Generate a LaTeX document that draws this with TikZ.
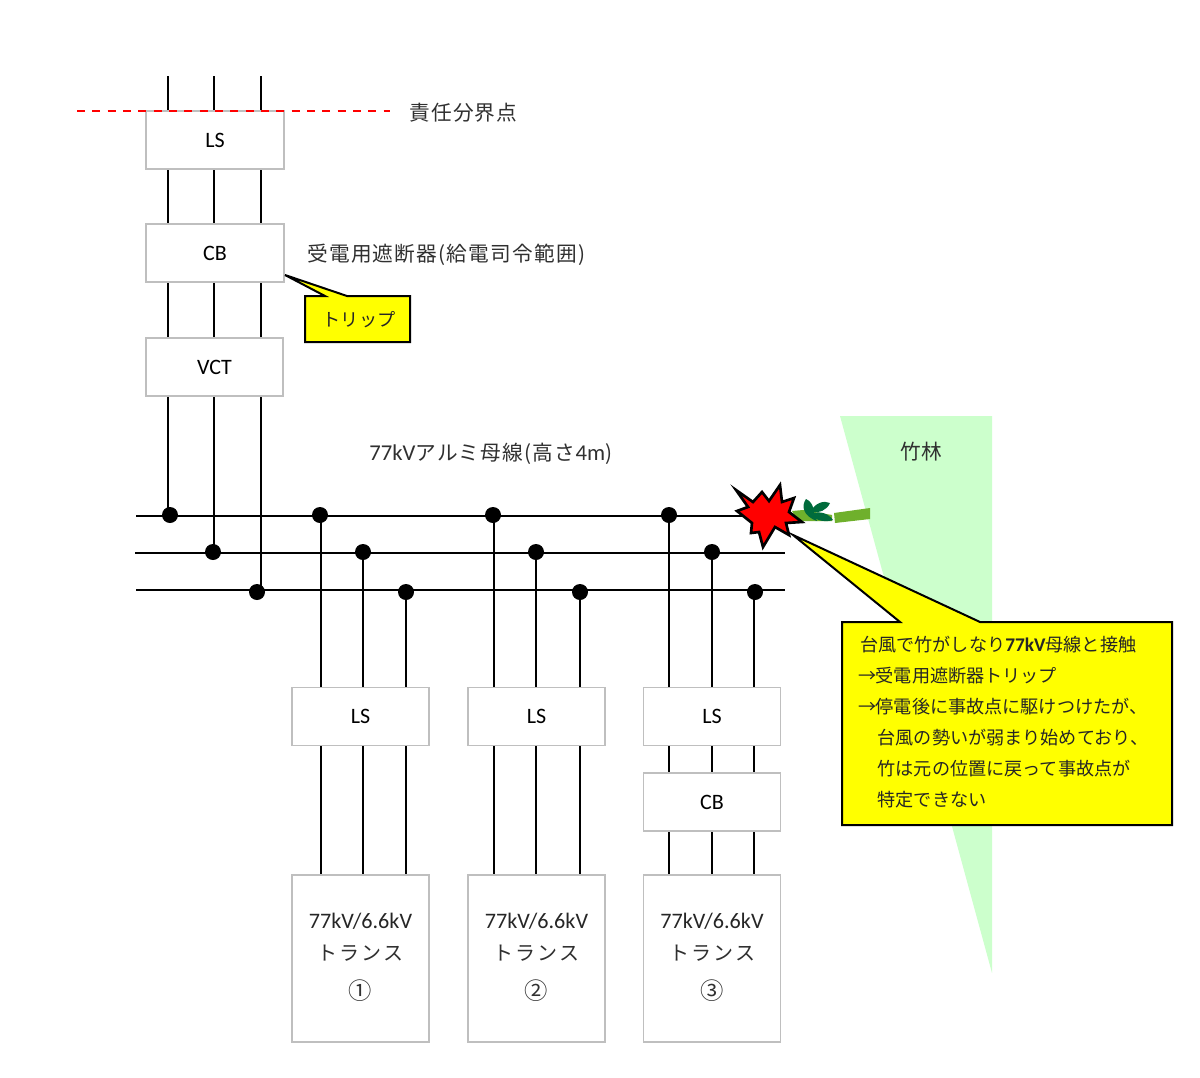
\documentclass[tikz,border=0pt]{standalone}
\usepackage{fontspec}
\setmainfont{Noto Sans CJK JP}
\newfontfamily\lat{Carlito}
\newfontfamily\cjkw[LetterSpace=6]{Noto Sans CJK JP}
\definecolor{boxgray}{HTML}{BFBFBF}
\definecolor{txt}{HTML}{303030}
\definecolor{bamboo}{HTML}{6FB02C}
\definecolor{leafc}{HTML}{006B3C}
\definecolor{grove}{HTML}{CCFFCC}
\definecolor{yel}{HTML}{FFFF00}
\tikzset{
  eqbox/.style={draw=boxgray,line width=1.2pt,fill=white,inner sep=0pt,text=black,align=center,font=\fontsize{16.5}{16.5}\selectfont\lat},
  wire/.style={black,line width=1.4pt},
  busdot/.style={circle,fill=black,inner sep=0pt,minimum size=12pt},
  callout/.style={draw=black,line width=1.5pt,fill=yel,line join=miter},
  lbl/.style={text=txt,inner sep=0pt,font=\fontsize{15.5}{15.5}\selectfont\cjkw},
  ylbl/.style={text=black!85,inner sep=0pt,font=\fontsize{13.6}{23.25}\selectfont,align=left},
  trtext/.style={inner sep=0pt,text=txt}
}
\newcommand{\K}[1]{{\lat #1}}
\begin{document}
\begin{tikzpicture}[x=0.75pt,y=-0.75pt]
\useasboundingbox (0,0) rectangle (1200,1078);
\fill[white] (0,0) rectangle (1200,1078);
% bamboo grove
\fill[grove] (840,416) -- (992,416) -- (992,973) -- cycle;
\node[text=txt,inner sep=0pt,font=\fontsize{15.5}{15.5}\selectfont] (grove) at (921,452) {竹林};
% coordinates of wire ends
\foreach \n/\x/\y in {a/168/76,b/214/76,c/261/76}{\coordinate (top\n) at (\x,\y);}
\foreach \n/\x/\y in {p/136/516,q/135/553,r/136/590}{\coordinate (bl\n) at (\x,\y);}
\coordinate (brp) at (745,516);
\coordinate (brq) at (785,553);
\coordinate (brr) at (785,590);
% junction dots
\foreach \n/\x/\y in {a/170/515,b/213/552,c/257/592,
 d/320/515,e/363/552,f/406/592,
 g/493/515,h/536/552,i/580/592,
 j/669/515,k/712/552,l/755/592}{\node[busdot] (dot\n) at (\x,\y) {};}
% buses
\draw[wire] (blp) -- (brp);
\draw[wire] (blq) -- (brq);
\draw[wire] (blr) -- (brr);
% incoming
\draw[wire] (topa) -- (topa |- dota);
\draw[wire] (topb) -- (topb |- dotb);
\draw[wire] (topc) -- (topc |- blr);
% feeders
\foreach \n/\x/\d in {1/321/d,2/363/e,3/406/f,4/494/g,5/536/h,6/580/i,7/669/j,8/712/k,9/754/l}{
  \coordinate (fe\n) at (\x,875);
  \draw[wire] (fe\n) -- (fe\n |- dot\d);
}
% equipment
\node[eqbox,minimum width=103.5pt,minimum height=43.5pt] (ls0) at (215,140) {LS};
\node[eqbox,minimum width=103.5pt,minimum height=43.5pt] (cb0) at (215,253) {CB};
\node[eqbox,minimum width=102.75pt,minimum height=43.5pt] (vct) at (214.5,367) {VCT};
\node[eqbox,minimum width=102.75pt,minimum height=43.5pt] (ls1) at (360.5,716.5) {LS};
\node[eqbox,minimum width=102.75pt,minimum height=43.5pt] (ls2) at (536.5,716.5) {LS};
\node[eqbox,minimum width=102.75pt,minimum height=43.5pt] (ls3) at (712,716.5) {LS};
\node[eqbox,minimum width=102.75pt,minimum height=43.5pt] (cb3) at (712,802) {CB};
\foreach \n/\x/\t in {1/360.5/①,2/536.5/②,3/712/③}{
  \node[eqbox,minimum width=102.75pt,minimum height=125.25pt] (tr\n) at (\x,958.5) {};
  \node[trtext,font=\fontsize{16.6}{16.6}\selectfont\lat,text=black!85] (trv\n) at (\x,921) {77kV/6.6kV};
  \node[trtext,font=\fontsize{15}{15}\selectfont] (trn\n) at (\x,953) {ト\hspace{1.5pt}ラ\hspace{1.5pt}ン\hspace{1.5pt}ス};
  \node[trtext,font=\fontsize{17.5}{17.5}\selectfont] (trc\n) at (\x,991) {\t};
}
% boundary
\coordinate (bda) at (77,111);
\coordinate (bdb) at (390,111);
\draw[red,line width=1.2pt,dash pattern=on 6pt off 5.5pt] (bda) -- (bdb);
\node[lbl,anchor=west] (bdl) at (409,113) {責任分界点};
\node[lbl,anchor=west] (rcv) at (307,255) {受電用遮断器(給電司令範囲)};
\node[lbl,anchor=west] (busl) at (369,454) {{\lat\fontsize{17}{17}\selectfont 77kV}アルミ母線(高さ{\lat\fontsize{17}{17}\selectfont 4m})};
% trip callout
\draw[callout] (305,296) -- (325,296) -- (285,275) -- (347,296) -- (410,296) -- (410,342) -- (305,342) -- cycle;
\node[text=black!85,inner sep=0pt,font=\fontsize{13.6}{13.6}\selectfont] (trip) at (359,320) {トリップ};
% bamboo
\fill[bamboo] (792,511) -- (803,510) -- (832,515) -- (832,521) -- (803,521) -- (797,521) -- cycle;
\fill[bamboo] (834,513) -- (870,508) -- (870,519) -- (835,523) -- cycle;
\fill[leafc] (806,499) .. controls (801,506) and (803,516) .. (817,521) .. controls (813,513) and (815,503) .. (806,499) -- cycle;
\fill[leafc] (811,511) .. controls (815,503) and (824,500) .. (830,503) .. controls (827,510) and (819,514) .. (811,511) -- cycle;
\fill[leafc] (811,514) .. controls (820,510) and (829,514) .. (833,520) .. controls (827,522) and (816,522) .. (811,514) -- cycle;
% flash
\draw[fill=red,draw=black,line width=2pt,line join=miter,miter limit=20] (736,490) -- (753,502) -- (762,492) -- (769,501) -- (780,485) -- (782,502) -- (794,498) -- (789,512) -- (802,522) -- (786,523) -- (789,535) -- (775,527) -- (763,547) -- (759,532) -- (751,533) -- (752,523) -- (737,511) -- (748,507) -- cycle;
% main callout
\draw[callout] (842,622) -- (900,622) -- (793,535) -- (980,622) -- (1172,622) -- (1172,825) -- (842,825) -- cycle;
\node[ylbl,anchor=north west] (note) at (860,636) {台風で竹がしなり\K{\bfseries\fontsize{14.5}{23.25}\selectfont 77kV}母線と接触\\
\hspace*{-1pt}→\hspace*{-1pt}受電用遮断器トリップ\\
\hspace*{-1pt}→\hspace*{-1pt}停電後に事故点に駆けつけたが、\\
\hspace*{13pt}台風の勢いが弱まり始めており、\\
\hspace*{13pt}竹は元の位置に戻って事故点が\\
\hspace*{13pt}特定できない};
\end{tikzpicture}
\end{document}
